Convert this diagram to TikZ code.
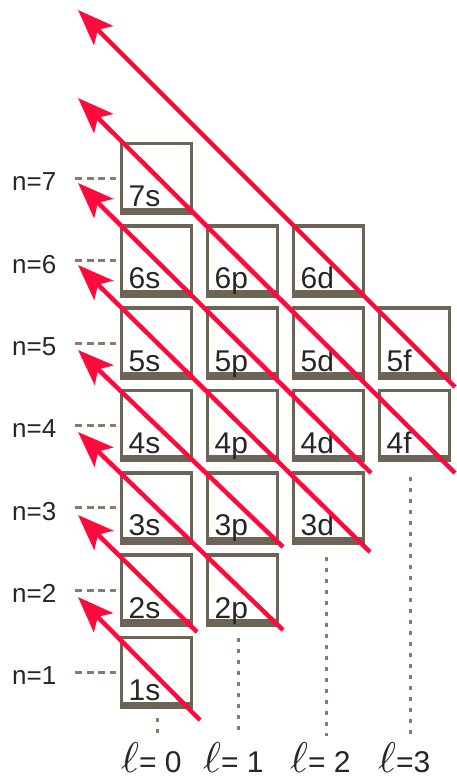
\documentclass[tikz,border=0pt]{standalone}
\usepackage{fontspec}
\setmainfont{Liberation Sans}
\usetikzlibrary{arrows.meta}
\definecolor{boxc}{RGB}{108,100,86}
\definecolor{dashc}{RGB}{135,125,108}
\definecolor{arr}{RGB}{255,10,60}
\definecolor{txt}{RGB}{40,38,34}
\newcommand{\myell}{\scalebox{4.3}{\normalsize$\ell$}}
\begin{document}
\begin{tikzpicture}[x=1pt,y=-1pt,
  orb/.style={draw=boxc,line width=3.5pt,minimum width=70pt,minimum height=70pt,inner sep=0pt,outer sep=0pt},
  lbl/.style={inner sep=0pt,text=txt,font=\fontsize{30}{30}\selectfont},
  nlbl/.style={inner sep=0pt,text=txt,font=\fontsize{26}{26}\selectfont},
  ndash/.style={draw=dashc,line width=3pt,dash pattern=on 7pt off 4.5pt},
  vdot/.style={draw=dashc,line width=3pt,dash pattern=on 4pt off 7pt},
  redarrow/.style={draw=arr,line width=4.5pt,-{Stealth[length=36pt,width=27pt,inset=8pt]}},
  ellbl/.style={inner sep=0pt,text=txt,anchor=base west,font=\fontsize{30}{30}\selectfont}]
\useasboundingbox (0,0) rectangle (456,780);
% boxes
\foreach \n/\l/\nm in {1/0/1s,2/0/2s,2/1/2p,3/0/3s,3/1/3p,3/2/3d,4/0/4s,4/1/4p,4/2/4d,4/3/4f,5/0/5s,5/1/5p,5/2/5d,5/3/5f,6/0/6s,6/1/6p,6/2/6d,7/0/7s}{
  \pgfmathsetmacro\cx{156.5+86*\l}
  \pgfmathsetmacro\cy{672.5-82.33*(\n-1)}
  \node[orb] (b\nm) at (\cx,\cy) {};
  \fill[boxc] ([yshift=6pt]b\nm.south west) rectangle (b\nm.south east);
  \node[lbl,anchor=base west] (t\nm) at ([xshift=7pt,yshift=7pt]b\nm.south west) {\nm};
}
% n labels and dashes
\foreach \n in {1,...,7}{
  \pgfmathsetmacro\cy{672.5-82.33*(\n-1)}
  \node[nlbl,anchor=west] (n\n) at (12,\cy+3.5) {n=\n};
  \coordinate (da\n) at (75,\cy);
  \coordinate (db\n) at (116,\cy);
  \draw[ndash] (da\n) -- (db\n);
}
% vertical dotted lines
\coordinate (vs1) at (157,718); \coordinate (vs2) at (157,736);
\coordinate (vp1) at (238,638); \coordinate (vp2) at (238,736);
\coordinate (vd1) at (326,557); \coordinate (vd2) at (326,736);
\coordinate (vf1) at (410,477); \coordinate (vf2) at (410,736);
\draw[vdot] (vs1) -- (vs2);
\draw[vdot] (vp1) -- (vp2);
\draw[vdot] (vd1) -- (vd2);
\draw[vdot] (vf1) -- (vf2);
% ell labels
\node[ellbl] (l0) at (121,772) {\myell= 0};
\node[ellbl] (l1) at (203,772) {\myell= 1};
\node[ellbl] (l2) at (290,772) {\myell= 2};
\node[ellbl] (l3) at (378,772) {\myell=3};
% red arrows
\foreach \i/\ax/\ay/\bx/\by in {1/200/720/78/597, 2/197/632/78/515, 3/283/630/78/432, 4/283/547/78/350, 5/370/552/78/265, 6/371/473/78/183, 7/455/473/78/98, 8/455/387/78/10}{
  \coordinate (s\i) at (\ax,\ay);
  \coordinate (e\i) at (\bx,\by);
  \draw[redarrow] (s\i) -- (e\i);
}
\end{tikzpicture}
\end{document}
